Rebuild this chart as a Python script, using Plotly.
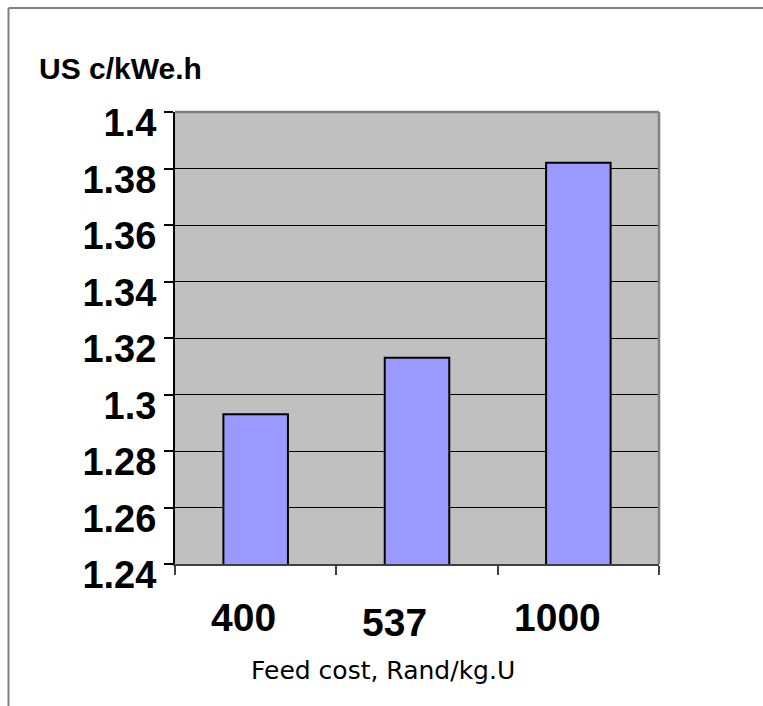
import plotly.graph_objects as go

# Generation cost versus uranium feed cost
feed_costs = ["400", "537", "1000"]
cost_us_c_per_kwh = [1.293, 1.313, 1.382]
y_ticks = [1.24, 1.26, 1.28, 1.30, 1.32, 1.34, 1.36, 1.38, 1.40]
y_tick_text = ["1.24", "1.26", "1.28", "1.3", "1.32", "1.34", "1.36", "1.38", "1.4"]

# per-label nudges for the category labels under the axis (px)
label_dx = [-12, -23, -21]
label_dy = [-53, -58, -53]

W, H = 763, 706
L, R, T, B = 175, 104, 112, 142
pw, ph = W - L - R, H - T - B

bold = dict(family="Liberation Sans, Arial, sans-serif", color="black", weight="bold")

fig = go.Figure(
    go.Bar(
        x=feed_costs,
        y=cost_us_c_per_kwh,
        width=0.4,
        marker=dict(color="#9999FF", line=dict(color="black", width=2)),
        hoverinfo="x+y",
    )
)

fig.update_layout(
    width=W,
    height=H,
    margin=dict(l=L, r=R, t=T, b=B, pad=0),
    paper_bgcolor="white",
    plot_bgcolor="#C0C0C0",
    showlegend=False,
    autotypenumbers="strict",
    xaxis=dict(
        type="category",
        categoryorder="array",
        categoryarray=feed_costs,
        range=[-0.5, len(feed_costs) - 0.5],
        showticklabels=False,
        showgrid=False,
        showline=True,
        linecolor="#404040",
        linewidth=2,
        ticks="outside",
        tickson="boundaries",
        ticklen=9,
        tickwidth=1.5,
        tickcolor="#404040",
    ),
    yaxis=dict(
        range=[1.24, 1.40],
        tickvals=y_ticks,
        ticktext=y_tick_text,
        tickfont=dict(size=38, **bold),
        ticklabelshift=11,
        showgrid=True,
        gridcolor="black",
        gridwidth=1,
        zeroline=False,
        showline=True,
        linecolor="black",
        linewidth=2,
        ticks="outside",
        ticklen=9,
        tickwidth=1.5,
        tickcolor="black",
    ),
)

annotations = []
# category labels under the x axis (category index on the x scale)
for i, (cat, dx, dy) in enumerate(zip(feed_costs, label_dx, label_dy)):
    annotations.append(dict(
        x=i, xref="x", y=0, yref="paper",
        text=cat, showarrow=False,
        xanchor="center", yanchor="middle",
        xshift=dx, yshift=dy,
        font=dict(size=39, **bold),
    ))

# axis titles
annotations.append(dict(
    x=0.5, xref="paper", y=0, yref="paper",
    text="Feed cost, Rand/kg.U", showarrow=False,
    xanchor="center", yanchor="middle",
    xshift=-34, yshift=-106,
    font=dict(family="DejaVu Sans, Verdana, sans-serif", size=25, color="black"),
))
annotations.append(dict(
    x=(37 - L) / pw, xref="paper", y=1, yref="paper",
    text="US c/kWe.h", showarrow=False,
    xanchor="left", yanchor="middle",
    yshift=T - 68,
    font=dict(size=30, **bold),
))
fig.update_layout(annotations=annotations)

shapes = [
    # grey top and right edges of the plot area
    dict(type="line", xref="paper", yref="paper", x0=0, x1=1, y0=1, y1=1,
         line=dict(color="#808080", width=2.5), layer="above"),
    dict(type="line", xref="paper", yref="paper", x0=1, x1=1, y0=0, y1=1,
         line=dict(color="#808080", width=2.5), layer="above"),
    # outer chart frame
    dict(type="line", xref="paper", yref="paper",
         x0=(8.5 - L) / pw, x1=(W + 10 - L) / pw,
         y0=(H - B - 8) / ph, y1=(H - B - 8) / ph,
         line=dict(color="#808080", width=2), layer="above"),
    dict(type="line", xref="paper", yref="paper",
         x0=(8.5 - L) / pw, x1=(8.5 - L) / pw,
         y0=(H - B - 8) / ph, y1=-(B + 10) / ph,
         line=dict(color="#808080", width=2), layer="above"),
]
fig.update_layout(shapes=shapes)

fig.write_html("out.html")
